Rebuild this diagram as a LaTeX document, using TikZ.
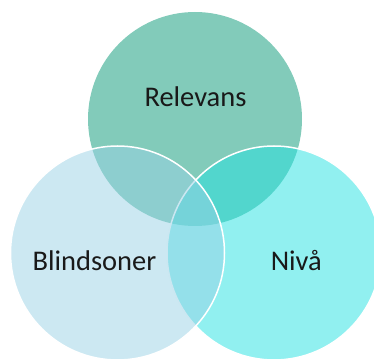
\documentclass[tikz,border=0pt]{standalone}
\usepackage{fontspec}
\setmainfont{Carlito}
\definecolor{topgreen}{RGB}{130,203,186}
\definecolor{leftblue}{RGB}{153,209,229}
\definecolor{rightcyan}{RGB}{35,225,225}
\definecolor{textgray}{RGB}{25,25,25}

\begin{document}
\begin{tikzpicture}[x=1pt,y=-1pt,
  ring/.style={circle,inner sep=0pt,minimum size=214pt},
  word/.style={anchor=base,inner sep=0pt,text=textgray,
    font=\fontsize{28.5}{34}\selectfont}]
  \useasboundingbox (0,0) rectangle (374,358);
  \clip (0,0) rectangle (374,358);
  % the three rings
  \node[ring,fill=topgreen] (top) at (195,119) {};
  \node[ring,fill=rightcyan,fill opacity=.5,draw=white,line width=1.5pt] (right) at (274,253) {};
  \node[ring,fill=leftblue,fill opacity=.5,draw=white,line width=1.5pt] (left) at (117.5,253) {};
  % labels
  \node[word] (relevans) at (195.5,106.7) {Relevans};
  \node[word] (blindsoner) at (94.5,270) {Blindsoner};
  \node[word] (niva) at (296.3,270) {Nivå};
\end{tikzpicture}
\end{document}
